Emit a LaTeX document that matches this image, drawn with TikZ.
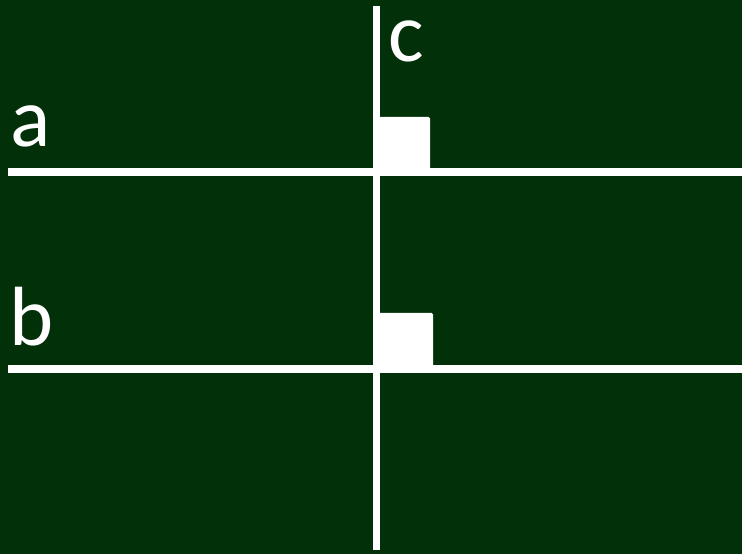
\documentclass[tikz,border=0pt]{standalone}
\usepackage{fontspec}
\setmainfont{Carlito}
\usepackage{tikz}
\usetikzlibrary{positioning}
\usepackage{xcolor}
\definecolor{boardgreen}{RGB}{2,48,8}
\tikzstyle{chalkline} = [line width=7.5pt, draw=white]
\tikzstyle{rightmark} = [fill=white, rounded corners=1.5pt]
\tikzstyle{linelabel} = [text=white, inner sep=0pt, anchor=base west, font=\fontsize{84}{84}\selectfont]

\begin{document}
\begin{tikzpicture}[x=1pt, y=1pt]
    % Board
    \fill[boardgreen] (0, 0) rectangle (742, 554);
    \useasboundingbox (0, 0) rectangle (742, 554);

    % Right angle marks
    \fill[rightmark] (376, 382) -- (376, 437) -- (430, 437) -- (430, 382) [sharp corners] -- cycle;
    \fill[rightmark] (376, 185) -- (376, 241) -- (433, 241) -- (433, 185) [sharp corners] -- cycle;

    % Lines a, b and c
    \coordinate (aL) at (8, 382);
    \coordinate (aR) at (742, 382);
    \coordinate (bL) at (8, 185);
    \coordinate (bR) at (742, 185);
    \coordinate (cT) at (376.5, 548);
    \coordinate (cB) at (376.5, 3.5);
    \draw[chalkline] (aL) -- (aR);
    \draw[chalkline] (bL) -- (bR);
    \draw[chalkline] (cT) -- (cB);

    % Labels
    \node[linelabel] (la) at (10, 407) {a};
    \node[linelabel] (lb) at (9, 208) {b};
    \node[linelabel] (lc) at (388, 492) {c};
\end{tikzpicture}
\end{document}
